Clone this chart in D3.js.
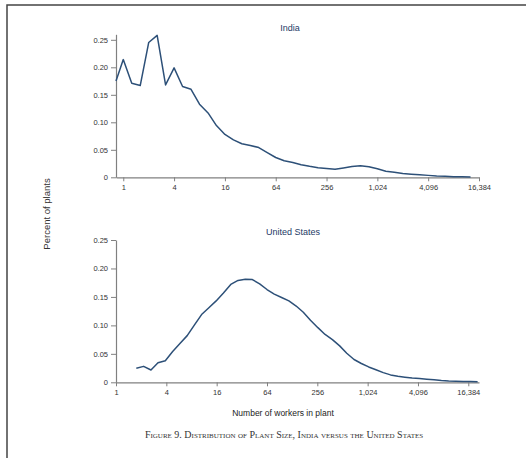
<!DOCTYPE html>
<html>
<head>
<meta charset="utf-8">
<script src="https://cdn.jsdelivr.net/npm/d3@7"></script>
<style>
  body { margin: 0; background: #fff; }
  svg { display: block; font-family: "Liberation Sans", Arial, sans-serif; }
  .axis path, .axis line { stroke: #808080; }
  .axis text { fill: #333; font-size: 7.5px; }
</style>
</head>
<body>
<svg id="chart" width="526" height="458"></svg>
<script>
// workers per plant (x) and share of plants (y)
const indiaWorkers = [0.82, 1, 1.26, 1.59, 2, 2.52, 3.17, 4, 5.04, 6.35, 8, 10.1, 12.7, 16, 20.2, 25.4, 32, 40.3, 50.8, 64, 80.6, 102, 128, 161, 203, 256, 323, 406, 512, 645, 813, 1024, 1290, 1625, 2048, 2580, 3251, 4096, 5161, 6502, 8192, 10321, 13004];
const indiaShare = [0.175, 0.214, 0.171, 0.167, 0.245, 0.258, 0.168, 0.199, 0.165, 0.160, 0.133, 0.117, 0.094, 0.078, 0.068, 0.061, 0.058, 0.054, 0.045, 0.036, 0.030, 0.027, 0.023, 0.020, 0.0175, 0.016, 0.0145, 0.017, 0.0195, 0.021, 0.019, 0.0155, 0.011, 0.009, 0.0068, 0.0057, 0.0047, 0.0035, 0.0024, 0.0017, 0.0012, 0.0008, 0.0005];

const usWorkers = [1.75, 2.14, 2.62, 3.18, 3.89, 4.76, 5.82, 7.11, 8.69, 10.56, 12.91, 15.78, 19.29, 23.59, 28.84, 35.26, 42.8, 52.3, 64, 78.2, 95.7, 117, 143, 174, 212, 260, 317, 388, 474, 576, 704, 861, 1053, 1287, 1574, 1924, 2353, 2857, 3492, 4270, 5220, 6381, 7802, 9540, 11665, 14263, 17436, 21170];
const usShare = [0.0246, 0.028, 0.0216, 0.0345, 0.038, 0.054, 0.068, 0.082, 0.101, 0.119, 0.131, 0.143, 0.157, 0.172, 0.179, 0.181, 0.1805, 0.173, 0.163, 0.155, 0.149, 0.143, 0.134, 0.123, 0.109, 0.096, 0.084, 0.075, 0.064, 0.051, 0.040, 0.033, 0.027, 0.022, 0.017, 0.013, 0.0105, 0.009, 0.0077, 0.0068, 0.0055, 0.0043, 0.003, 0.0022, 0.0018, 0.0015, 0.0012, 0.001];

const xTicks = [1, 4, 16, 64, 256, 1024, 4096, 16384];
const yTicks = [0, 0.05, 0.10, 0.15, 0.20, 0.25];

const svg = d3.select("#chart");
const lineColor = "#2d5078";

// page frame
svg.append("path")
   .attr("d", "M7,458 L7,5 L526,5")
   .attr("fill", "none")
   .attr("stroke", "#444")
   .attr("stroke-width", 1.5);

function panel(opts){
    const x = d3.scaleLog().base(2).domain(opts.xDomain).range([116, 479]);
    const y = d3.scaleLinear().domain(opts.yDomain).range([opts.bottom, opts.top]);

    const g = svg.append("g");

    g.append("g")
     .attr("class", "axis")
     .attr("transform", `translate(0,${opts.bottom})`)
     .call(d3.axisBottom(x).tickValues(xTicks).tickSize(4).tickSizeOuter(0)
             .tickFormat(d3.format(",")))
     .call(a => a.select(".domain").attr("stroke-width", 1.2));

    g.append("g")
     .attr("class", "axis")
     .attr("transform", `translate(116,0)`)
     .call(d3.axisLeft(y).tickValues(yTicks).tickSize(5).tickSizeOuter(0)
             .tickFormat(d => d === 0 ? "0" : d3.format(".2f")(d)))
     .call(a => a.select(".domain").attr("stroke-width", 1.2));

    const pts = opts.workers.map((w, i) => [w, opts.share[i]]);
    g.append("path")
     .datum(pts)
     .attr("fill", "none")
     .attr("stroke", lineColor)
     .attr("stroke-width", 1.5)
     .attr("stroke-linejoin", "round")
     .attr("d", d3.line().x(d => x(d[0])).y(d => y(d[1])));

    g.append("text")
     .attr("x", opts.titleX)
     .attr("y", opts.titleY)
     .attr("text-anchor", "middle")
     .style("font-size", "9px")
     .style("fill", "#243a66")
     .text(opts.title);
}

panel({title: "India", titleX: 290, titleY: 31, xDomain: [0.82, 16384], yDomain: [0, 0.26],
       top: 34.3, bottom: 177.3, workers: indiaWorkers, share: indiaShare});
panel({title: "United States", titleX: 293, titleY: 235, xDomain: [1, 22000], yDomain: [0, 0.25],
       top: 240, bottom: 382.3, workers: usWorkers, share: usShare});

svg.append("text")
   .attr("transform", "translate(50,214) rotate(-90)")
   .attr("text-anchor", "middle")
   .style("font-size", "9.5px")
   .style("fill", "#333")
   .text("Percent of plants");

svg.append("text")
   .attr("x", 283)
   .attr("y", 416)
   .attr("text-anchor", "middle")
   .style("font-size", "8.5px")
   .style("fill", "#222")
   .text("Number of workers in plant");

svg.append("text")
   .attr("x", 284)
   .attr("y", 438)
   .attr("text-anchor", "middle")
   .style("font-family", "'Liberation Serif', 'Times New Roman', serif")
   .style("font-variant", "small-caps")
   .style("font-size", "10px")
   .style("fill", "#333")
   .text("Figure 9. Distribution of Plant Size, India versus the United States");
</script>
</body>
</html>
